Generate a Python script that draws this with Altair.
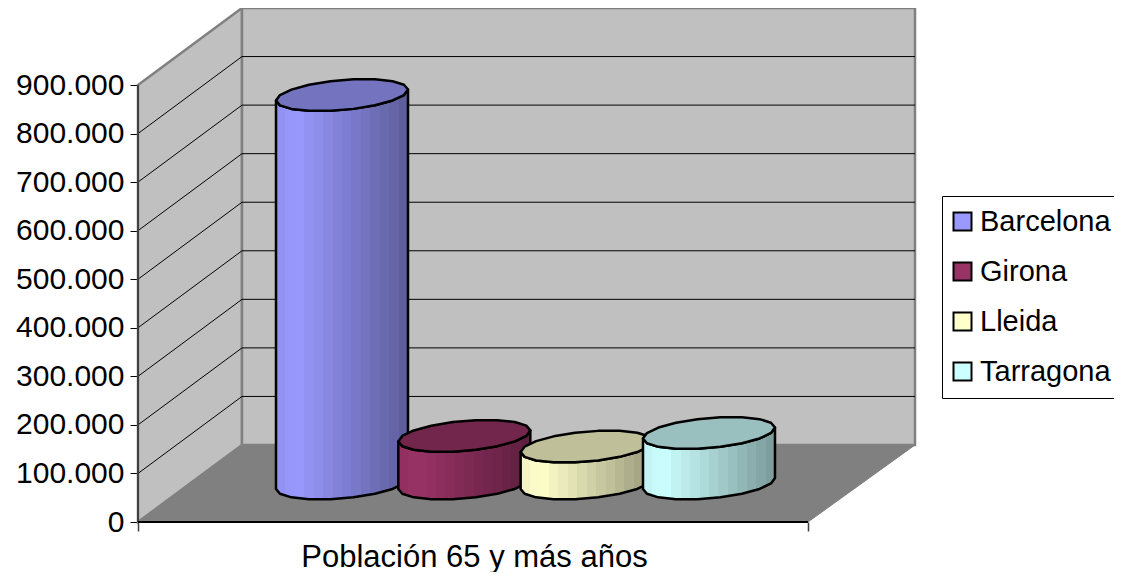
import math
import altair as alt
import pandas as pd

# ---- data ----
provinces = ["Barcelona", "Girona", "Lleida", "Tarragona"]
population = [800000, 98000, 76000, 104000]
front_colors = ["#9999FF", "#993366", "#FFFFCC", "#CCFFFF"]
tick_values = [0, 100000, 200000, 300000, 400000, 500000, 600000, 700000, 800000, 900000]
axis_title = "Población 65 y más años"

# ---- 3D frame geometry, in plot pixels; converted to value units below ----
PLOT_W, PLOT_H = 777, 514
FLOOR_W, DEPTH_X, DEPTH_Y = 670, 104, 77
UNIT = 900000 / 437          # people per vertical pixel
CYL_A, CYL_B, CYL_S = 66, 15, 5.5  # half-width, half-height, skew of the base ellipse
SIDES = 9                    # polygon segments per half ellipse
FIRST_CX, STEP_CX = 204, 122.33

FONT = "Liberation Sans"
x_scale = alt.Scale(domain=[0, PLOT_W], range=[0, PLOT_W], nice=False, zero=False)
y_scale = alt.Scale(domain=[0, PLOT_H * UNIT], range=[PLOT_H, 0], nice=False, zero=False)

x_enc = alt.X(
    "x:Q", scale=x_scale,
    axis=alt.Axis(
        values=[0, FLOOR_W], labels=False, domain=False, grid=False, tickSize=9,
        tickColor="#404040", tickWidth=1.5, title=axis_title, titleFont=FONT,
        titleFontSize=31, titleFontWeight="normal", titleColor="black",
        titleX=336, titleY=44, titleAnchor="middle", titleBaseline="alphabetic",
    ),
)
y_enc = alt.Y(
    "y:Q", scale=y_scale,
    axis=alt.Axis(
        values=tick_values, domain=False, grid=False, tickSize=8, tickColor="black",
        tickWidth=1, labelFont=FONT, labelFontSize=30, labelColor="black",
        labelPadding=6, title=None,
        labelExpr="replace(format(datum.value, ','), /,/g, '.')",
    ),
)


def area(points, **mark):
    df = pd.DataFrame(points, columns=["x", "y", "y2"])
    return alt.Chart(df).mark_area(orient="vertical", **mark).encode(
        x=x_enc, y=y_enc, y2="y2:Q"
    )


dy = DEPTH_Y * UNIT
top = 900000
left_wall = area([(0, top, 0), (DEPTH_X, top + dy, dy)], color="#C0C0C0", stroke="#808080", strokeWidth=2.5)
back_wall = area([(DEPTH_X, top + dy, dy), (PLOT_W, top + dy, dy)], color="#C0C0C0", stroke="#808080", strokeWidth=2.5)
floor = area(
    [(0, 0, 0), (DEPTH_X, dy, 0), (FLOOR_W, dy, 0), (PLOT_W, dy, dy)],
    color="#808080", stroke="#808080", strokeWidth=1,
)

grid_rows = []
for v in tick_values[1:-1]:
    grid_rows += [
        {"v": v, "x": 0, "y": v},
        {"v": v, "x": DEPTH_X, "y": v + dy},
        {"v": v, "x": PLOT_W, "y": v + dy},
    ]
grid = alt.Chart(pd.DataFrame(grid_rows)).mark_line(color="black", strokeWidth=1).encode(
    x=x_enc, y=y_enc, detail="v:N"
)

y_axis = alt.Chart(pd.DataFrame({"x": [0], "y": [0], "y2": [top]})).mark_rule(
    color="#404040", strokeWidth=2
).encode(x=x_enc, y=y_enc, y2="y2:Q")
base_line = alt.Chart(pd.DataFrame({"x": [0], "x2": [FLOOR_W], "y": [0]})).mark_rule(
    color="black", strokeWidth=2
).encode(x=x_enc, x2="x2:Q", y=y_enc)


def scaled(hex_color, factor):
    r, g, b = (int(hex_color[i:i + 2], 16) for i in (1, 3, 5))
    return "#%02x%02x%02x" % tuple(round(c * factor) for c in (r, g, b))


def shading(color, bands=14):
    stops = []
    for i in range(bands):
        u = (i + 0.5) / bands
        f = 0.94 + u / 0.15 * 0.06 if u < 0.15 else 1 - (u - 0.15) / 0.85 * 0.40
        c = scaled(color, f)
        stops.append(alt.GradientStop(color=c, offset=i / bands))
        stops.append(alt.GradientStop(color=c, offset=(i + 1) / bands))
    return alt.Gradient(gradient="linear", stops=stops, x1=0, x2=1, y1=0, y2=0)


def arc(cx, base, sign):
    pts = []
    for k in range(SIDES + 1):
        t = math.pi * (1 - k / SIDES)
        off = (CYL_S * math.cos(t) + sign * CYL_B * math.sin(t)) * UNIT
        pts.append((cx + CYL_A * math.cos(t), base + off))
    return pts


cylinders = []
base_y = 38.5 * UNIT
legend_rows = []
for i, (name, value, color) in enumerate(zip(provinces, population, front_colors)):
    cx = FIRST_CX + i * STEP_CX
    low_bottom = arc(cx, base_y, -1)
    low_top = arc(cx, base_y + value, -1)
    up_top = arc(cx, base_y + value, 1)
    body = area(
        [(a[0], a[1], b[1]) for a, b in zip(low_top, low_bottom)],
        color=shading(color), stroke="black", strokeWidth=2.5, strokeJoin="round",
    )
    cap = area(
        [(a[0], a[1], b[1]) for a, b in zip(up_top, low_top)],
        color=scaled(color, 0.75), stroke="black", strokeWidth=2.5, strokeJoin="round",
    )
    cylinders += [body, cap]
    legend_rows.append({"provincia": name, "x": cx, "y": base_y})

legend_src = alt.Chart(pd.DataFrame(legend_rows)).mark_point(
    shape="square", filled=True, opacity=0, size=1
).encode(
    x=x_enc, y=y_enc,
    color=alt.Color(
        "provincia:N",
        scale=alt.Scale(domain=provinces, range=front_colors),
        legend=alt.Legend(
            title=None, orient="none", legendX=804, legendY=188, padding=11,
            strokeColor="black", fillColor="white", symbolType="square", symbolSize=324,
            symbolStrokeColor="black", symbolStrokeWidth=2, symbolOpacity=1,
            symbolOffset={"expr": "-5"},
            labelFont=FONT, labelFontSize=29, labelColor="black",
            labelOffset=3,
            rowPadding=20, labelLimit=300,
        ),
    ),
)

chart = alt.layer(
    left_wall, back_wall, floor, grid, y_axis, base_line, *cylinders, legend_src
).properties(
    width=PLOT_W, height=PLOT_H, background="white",
    padding={"left": 130, "top": 0, "right": 199, "bottom": 50},
    autosize=alt.AutoSizeParams(type="none"),
).configure_view(stroke=None)

chart.save("out.html", embed_options={"renderer": "svg", "actions": False})
